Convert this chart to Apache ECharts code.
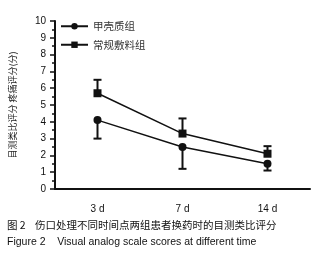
<!DOCTYPE html>
<html>
<head>
<meta charset="utf-8">
<script src="https://cdn.jsdelivr.net/npm/echarts@6/dist/echarts.min.js"></script>
<style>
html, body { margin: 0; padding: 0; background: #fff; }
#chart { width: 331px; height: 266px; }
</style>
</head>
<body>
<div id="chart"></div>
<script>
var days = ['3 d', '7 d', '14 d'];
var groupNames = ['甲壳质组', '常规敷料组'];
var chitinMean = [4.1, 2.5, 1.5];
var chitinLow = [3.0, 1.2, 1.1];
var routineMean = [5.7, 3.3, 2.1];
var routineHigh = [6.5, 4.2, 2.55];

var font = 'Liberation Sans, Arial, sans-serif';

function errBars(means, ends) {
	var out = [], i;
	for (i = 0; i < means.length; i++) out.push([i, means[i], ends[i]]);
	return out;
}

function renderErr(params, api) {
	var p0 = api.coord([api.value(0), api.value(1)]),
		p1 = api.coord([api.value(0), api.value(2)]),
		w = 4;
	var st = { stroke: '#111', lineWidth: 2 };
	return {
		type: 'group',
		children: [
			{ type: 'line', shape: { x1: p0[0], y1: p0[1], x2: p1[0], y2: p1[1] }, style: st },
			{ type: 'line', shape: { x1: p1[0] - w, y1: p1[1], x2: p1[0] + w, y2: p1[1] }, style: st }
		]
	};
}

var chart = echarts.init(document.getElementById('chart'), null, { renderer: 'canvas' });

chart.setOption({
	animation: false,
	grid: { left: 53, right: 21, top: 21, bottom: 77 },
	legend: {
		orient: 'vertical',
		left: 55,
		top: 16,
		itemWidth: 27,
		itemHeight: 8,
		itemGap: 8,
		textStyle: { fontFamily: 'Noto Sans CJK SC', fontSize: 10.5, color: '#333' },
		data: groupNames
	},
	xAxis: {
		type: 'category',
		data: days,
		boundaryGap: true,
		axisLine: { lineStyle: { color: '#111', width: 2 } },
		axisTick: { alignWithLabel: true, length: 4, lineStyle: { color: '#111', width: 1.5 } },
		axisLabel: { color: '#111', fontSize: 10, margin: 15, fontFamily: font }
	},
	yAxis: {
		type: 'value',
		min: 0,
		max: 10,
		interval: 1,
		name: '目测类比评分 疼痛评分(分)',
		nameLocation: 'middle',
		nameGap: 38,
		nameTextStyle: { fontFamily: 'Noto Sans CJK SC', fontSize: 9, color: '#222' },
		splitLine: { show: false },
		axisLine: { show: true, lineStyle: { color: '#111', width: 2 } },
		axisTick: { show: true, length: 5, lineStyle: { color: '#111', width: 1.5 } },
		minorTick: { show: true, splitNumber: 2, length: 3, lineStyle: { color: '#111', width: 1.5 } },
		axisLabel: { color: '#111', fontSize: 10, margin: 9, fontFamily: font }
	},
	series: [
		{
			name: groupNames[0],
			type: 'line',
			data: chitinMean,
			symbol: 'circle',
			symbolSize: 8,
			lineStyle: { color: '#111', width: 1.5 },
			itemStyle: { color: '#111' },
			z: 3
		},
		{
			name: groupNames[1],
			type: 'line',
			data: routineMean,
			symbol: 'rect',
			symbolSize: 8,
			lineStyle: { color: '#111', width: 1.5 },
			itemStyle: { color: '#111' },
			z: 3
		},
		{
			type: 'custom',
			renderItem: renderErr,
			data: errBars(chitinMean, chitinLow),
			z: 2
		},
		{
			type: 'custom',
			renderItem: renderErr,
			data: errBars(routineMean, routineHigh),
			z: 2
		}
	],
	graphic: [
		{
			type: 'text', left: 7, top: 220,
			style: { text: '图 2    伤口处理不同时间点两组患者换药时的目测类比评分', font: '10.5px "Noto Sans CJK SC"', fill: '#111' }
		},
		{
			type: 'text', left: 7, top: 237,
			style: { text: 'Figure 2    Visual analog scale scores at different time', font: '10.5px "Liberation Sans", Arial', fill: '#111' }
		}
	]
});
</script>
</body>
</html>
